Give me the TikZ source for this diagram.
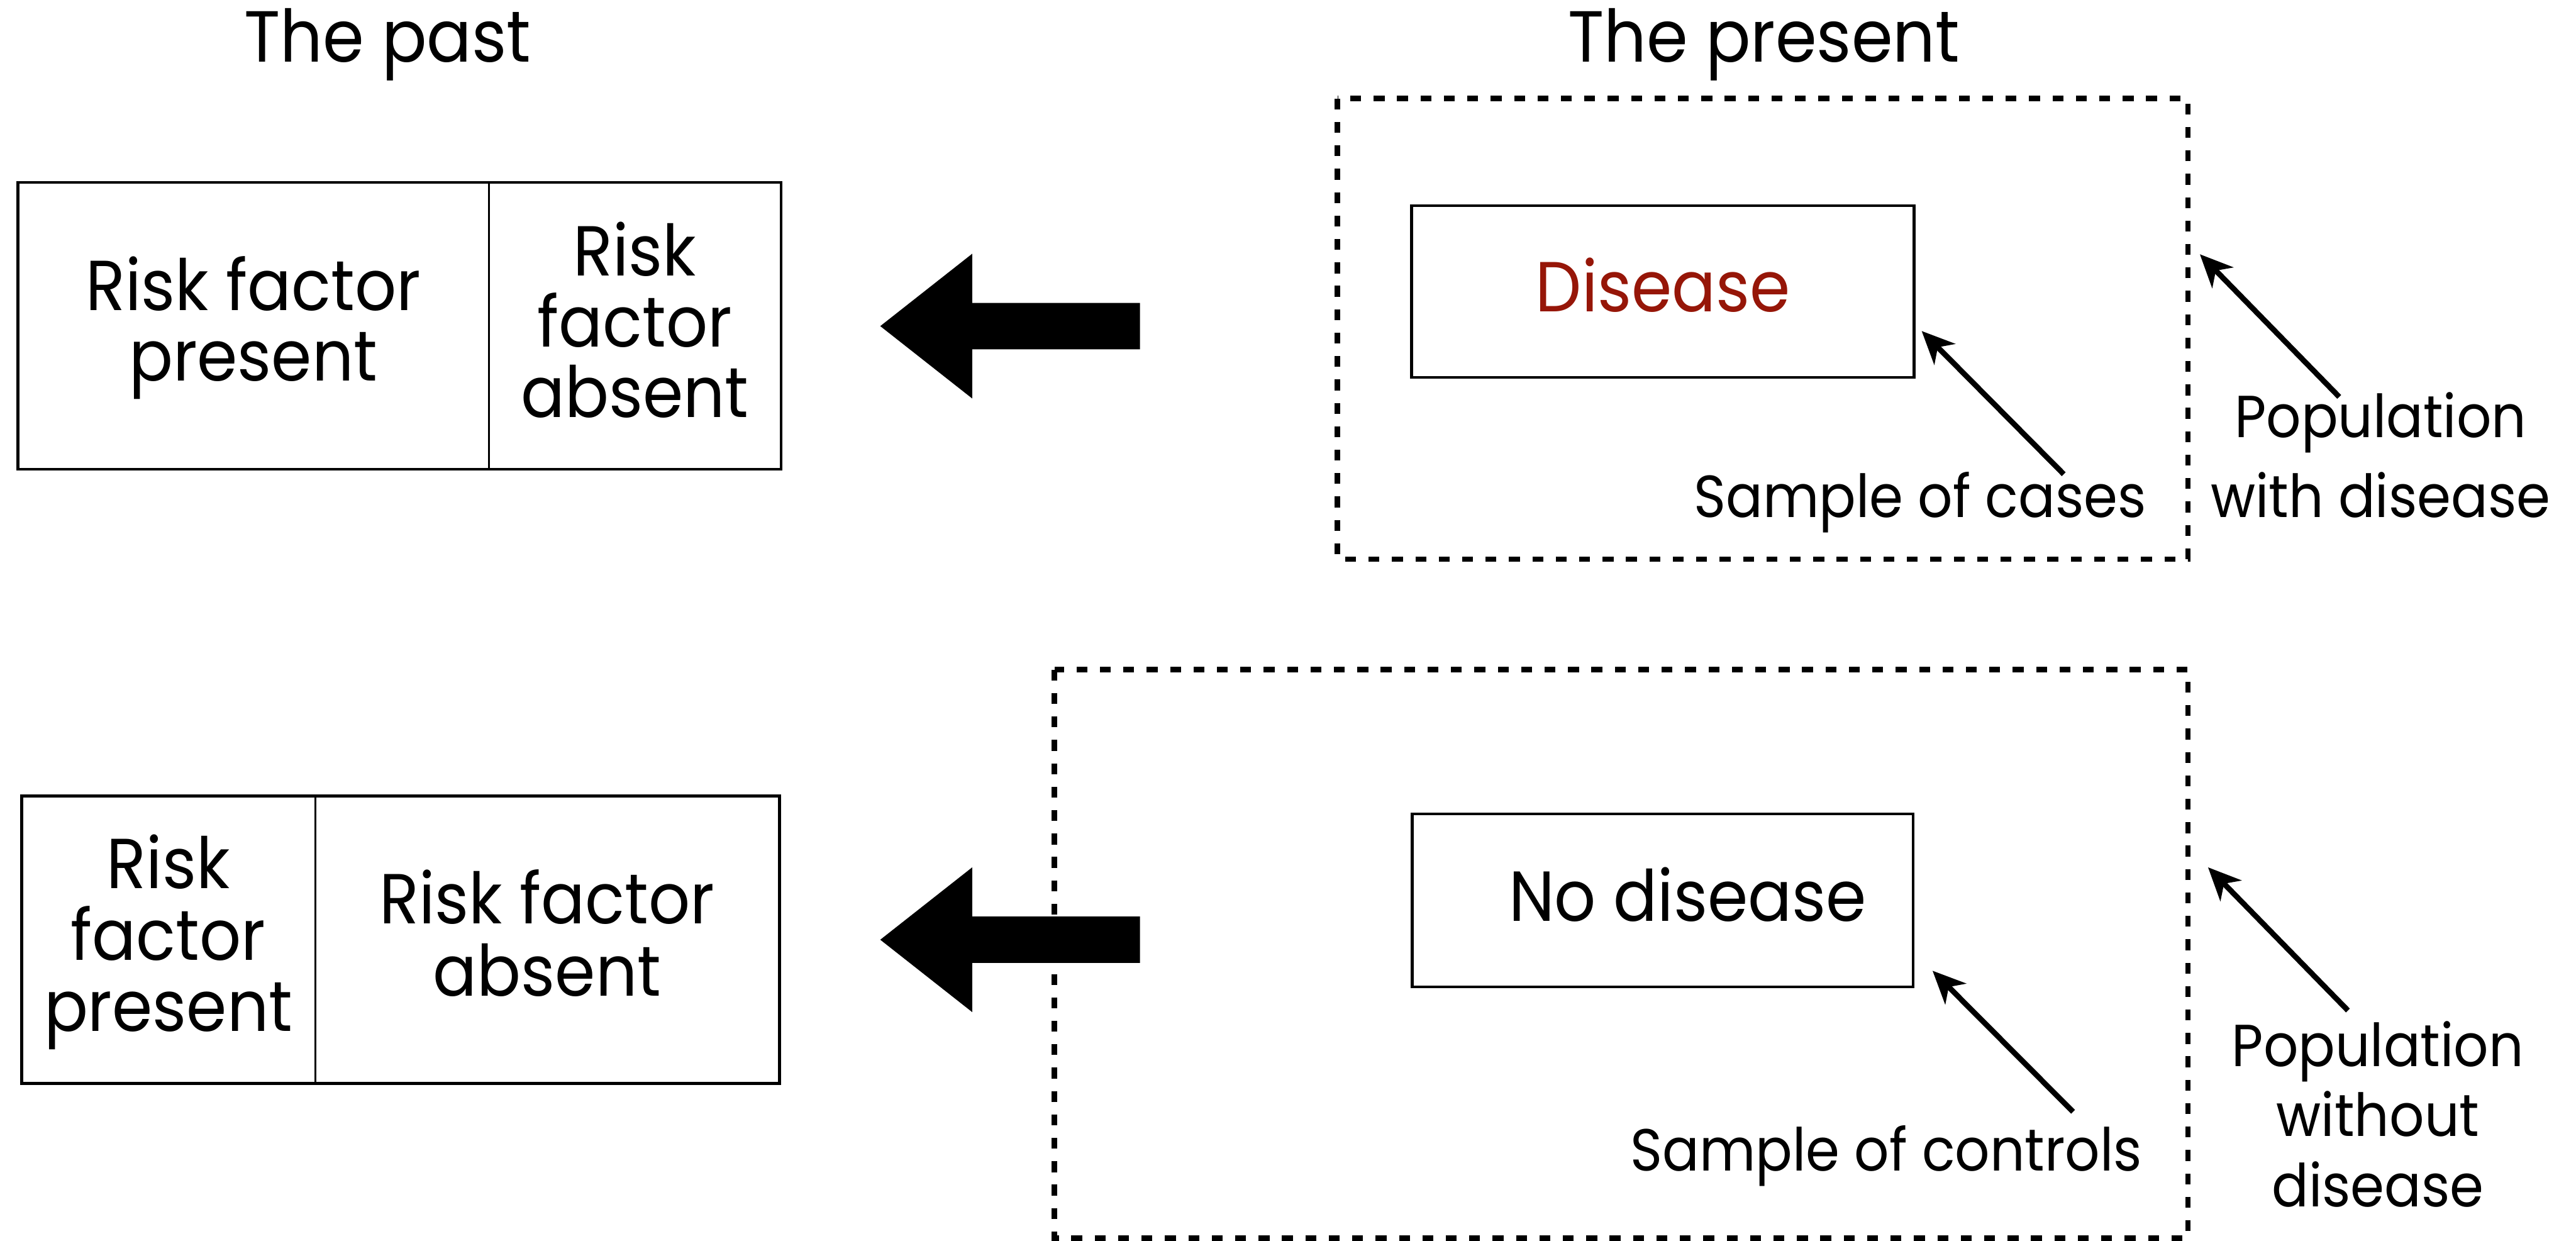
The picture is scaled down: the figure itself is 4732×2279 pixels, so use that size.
\documentclass[tikz,border=0pt]{standalone}
\usepackage{fontspec}
\setmainfont{Poppins}[FakeStretch=0.92]
\usetikzlibrary{arrows.meta}
\definecolor{diseasered}{RGB}{150,22,8}
% centred lines, baseline of the stack = baseline of its first line
\newcommand\txtstack[1]{\vtop{\lineskiplimit=-1000pt\relax\lineskip=0pt\relax
  \def\\{\cr}\halign{\hfil##\hfil\cr#1\crcr}}}

\begin{document}
\begin{tikzpicture}[x=0.1pt,y=-0.1pt,
  ttl/.style={inner sep=0pt,anchor=base,font=\fontsize{13.3}{16}\selectfont},
  celltxt/.style={inner sep=0pt,anchor=base,font=\fontsize{13}{13}\selectfont},
  lbl/.style={inner sep=0pt,anchor=base,font=\fontsize{10.9}{13}\selectfont},
  frame/.style={line width=0.5pt},
  divider/.style={line width=0.35pt},
  popbox/.style={line width=1pt,dash pattern=on 2pt off 2.3pt},
  pointer/.style={line width=1pt,-{Stealth[length=6pt,width=5.4pt,inset=1.8pt]}},
  pics/blockarrow/.style={code={
    \fill (0,0) -- (169,-133) -- (169,-42.5) -- (477,-42.5)
          -- (477,42.5) -- (169,42.5) -- (169,133) -- cycle;}}
]
\useasboundingbox (0,0) rectangle (4732,2279);

% column headings
\node[ttl] (past) at (712,114) {The past};
\node[ttl] (present) at (3240,114) {The present};

% ---------- cases ----------
\draw[frame] (33,335) rectangle (1435,862);
\draw[divider] (898,335) -- (898,862);
\node[celltxt] (casesRF) at (465,570) {\txtstack{Risk factor\\present}};
\node[celltxt] (casesNoRF) at (1166,507) {\txtstack{Risk\\factor\\absent}};

\pic at (1617,599) {blockarrow};

\draw[popbox] (2457,181) rectangle (4019,1027);
\draw[frame] (2593,378) rectangle (3516,693);
\node[celltxt,text=diseasered] (disease) at (3055,572) {Disease};

\coordinate (casesfoot) at (3791,871);
\coordinate (casestip) at (3530,608);
\draw[pointer] (casesfoot) -- (casestip);
\node[lbl] (caseslbl) at (3527,950) {Sample of cases};

\coordinate (popfoot) at (4297,729);
\coordinate (poptip) at (4041,467);
\draw[pointer] (popfoot) -- (poptip);
\node[lbl,font=\fontsize{10.9}{14.6}\selectfont] (poplbl) at (4373,804)
  {\txtstack{Population\\with disease}};

% ---------- controls ----------
\draw[frame] (40,1462) rectangle (1432,1990);
\draw[divider] (579,1462) -- (579,1990);
\node[celltxt,font=\fontsize{13}{13.1}\selectfont] (ctrlRF) at (309,1632)
  {\txtstack{Risk\\factor\\present}};
\node[celltxt,font=\fontsize{13}{13.2}\selectfont] (ctrlNoRF) at (1005,1697)
  {\txtstack{Risk factor\\absent}};

\draw[popbox] (1937,1230) rectangle (4019,2274);
\pic at (1617,1726) {blockarrow};

\draw[frame] (2594,1495) rectangle (3514,1813);
\node[celltxt] (nodisease) at (3100,1692) {No disease};

\coordinate (ctrlfoot) at (3808,2042);
\coordinate (ctrltip) at (3550,1783);
\draw[pointer] (ctrlfoot) -- (ctrltip);
\node[lbl] (ctrllbl) at (3465,2151) {Sample of controls};

\coordinate (nopopfoot) at (4313,1856);
\coordinate (nopoptip) at (4056,1593);
\draw[pointer] (nopopfoot) -- (nopoptip);
\node[lbl,font=\fontsize{10.9}{12.85}\selectfont] (nopoplbl) at (4368,1959)
  {\txtstack{Population\\without\\disease}};
\end{tikzpicture}
\end{document}
